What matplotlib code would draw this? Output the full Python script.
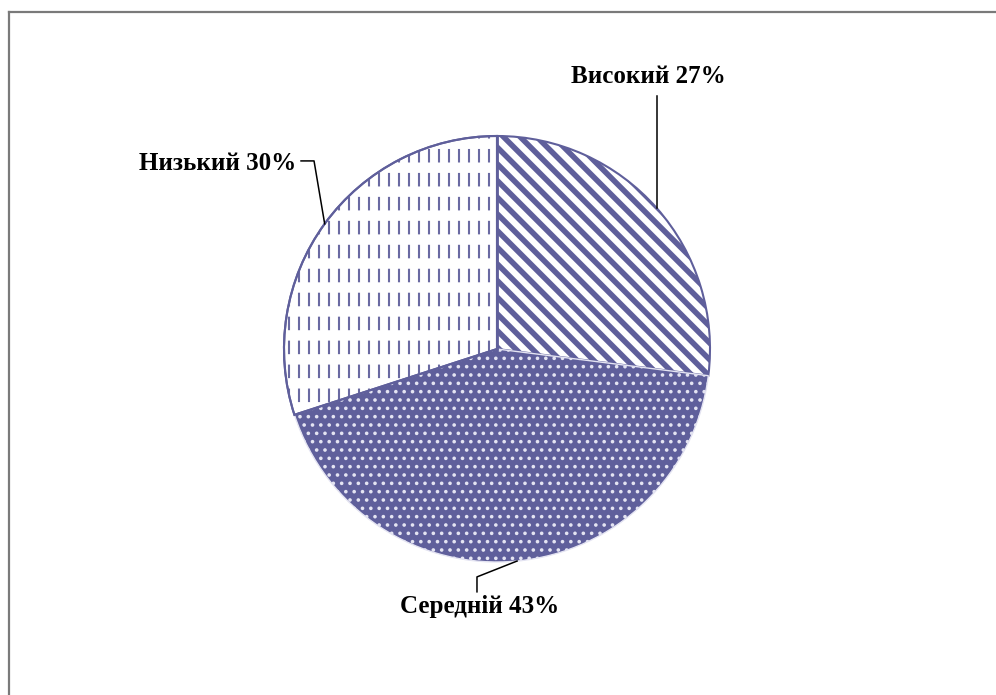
import numpy as np
import matplotlib as mpl
mpl.use("Agg")
import matplotlib.pyplot as plt
from matplotlib.patches import Wedge
from matplotlib.lines import Line2D

# ---- data ----
categories = ["Високий", "Середній", "Низький"]
values = [27, 43, 30]

NAVY = "#5f5f9b"
FONT = dict(family="Liberation Serif", fontweight="bold", fontsize=18, color="black")

fig = plt.figure(figsize=(9.96, 6.95), dpi=100)
ax = fig.add_axes([0, 0, 1, 1])
R_PX = 213.0
CX, CY = 497.0, 349.0
ax.set_xlim(-CX / R_PX, (996 - CX) / R_PX)
ax.set_ylim((CY - 695) / R_PX, CY / R_PX)
ax.axis("off")

total = float(sum(values))
fracs = [v / total for v in values]


def with_hatch_lw(patch, lw):
    if hasattr(patch, "set_hatch_linewidth"):
        patch.set_hatch_linewidth(lw)
    orig = patch.draw

    def draw(renderer, orig=orig, lw=lw):
        with mpl.rc_context({"hatch.linewidth": lw}):
            orig(renderer)
    patch.draw = draw


# slice styles (by index)
styles = [
    dict(facecolor="white", edgecolor=NAVY, hatch="\\\\", hlw=4.0, lw=1.5),
    dict(facecolor=NAVY, edgecolor="#e4e4f2", hatch="..", hlw=1.4, lw=1.0),
    dict(facecolor="white", edgecolor=NAVY, hatch=None, hlw=1.0, lw=1.5),
]

wedges = []
angles = []
start = 90.0
mids = []
for frac, st in zip(fracs, styles):
    sweep = 360.0 * frac
    t1, t2 = start - sweep, start
    mpl.rcParams["hatch.linewidth"] = st["hlw"]
    w = Wedge((0, 0), 1.0, t1, t2, facecolor=st["facecolor"],
              edgecolor=st["edgecolor"], linewidth=st["lw"], zorder=2)
    if st["hatch"]:
        w.set_hatch(st["hatch"])
        with_hatch_lw(w, st["hlw"])
    ax.add_patch(w)
    wedges.append(w)
    angles.append((t1, t2))
    mids.append(np.deg2rad((t1 + t2) / 2.0))
    start = t1

# vertical dashed texture for "Низький"
step = 10.0 / R_PX
xs = np.arange(-1.0 + step / 2, 0.0, step)
for x in xs:
    ln = Line2D([x, x], [1.05, -1.05], color="#6a6aa2", linewidth=1.5,
                dashes=(6.5, 5.0), zorder=3)
    ln.set_clip_path(wedges[2])
    ax.add_line(ln)
# outline of the low slice on top
ax.add_patch(Wedge((0, 0), 1.0, angles[2][0], angles[2][1], facecolor="none",
                   edgecolor=NAVY, linewidth=1.5, zorder=4))
ax.plot([0, 0], [0, 1], color=NAVY, linewidth=2.0, zorder=5)

# labels with leader lines
labels = [f"{c} {v}%" for c, v in zip(categories, values)]
ax_ = [np.cos(m) for m in mids]
ay_ = [np.sin(m) for m in mids]

# Високий
ax.plot([ax_[0], ax_[0]], [ay_[0], 1.19], color="black", lw=1.1, zorder=6)
ax.text(0.709, 1.277, labels[0], ha="center", va="center", **FONT)
# Середній
ax.plot([ax_[1], -0.094, -0.094], [ay_[1], -1.07, -1.14], color="black", lw=1.1, zorder=6)
ax.text(-0.08, -1.211, labels[1], ha="center", va="center", **FONT)
# Низький
ax.plot([ax_[2], -0.859, -0.92], [ay_[2], 0.883, 0.883], color="black", lw=1.1, zorder=6)
ax.text(-0.944, 0.873, labels[2], ha="right", va="center", **FONT)

# chart frame (top and left visible)
fig.add_artist(Line2D([8.5 / 996, 8.5 / 996], [0, 1 - 11.5 / 695], color="#7a7a7a",
                      linewidth=1.6, transform=fig.transFigure))
fig.add_artist(Line2D([8.5 / 996, 1], [1 - 11.5 / 695, 1 - 11.5 / 695], color="#7a7a7a",
                      linewidth=1.6, transform=fig.transFigure))

fig.savefig("out.png", dpi=100)
